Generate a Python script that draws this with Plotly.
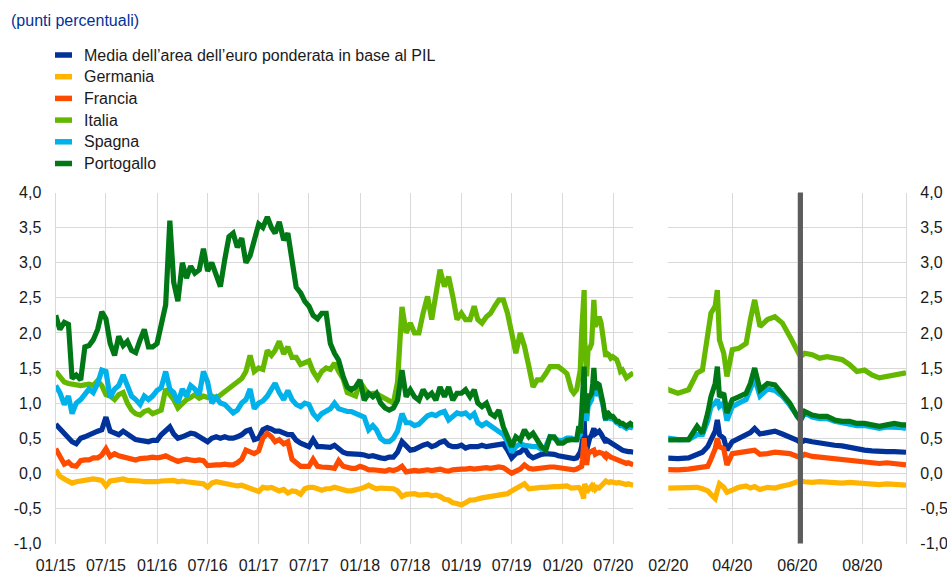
import plotly.graph_objects as go

# ---------------- data ----------------
# semi-monthly observations (1st and 16th of each month), Jan 2015 - Jan 2020
semi_monthly_dates = [f"{y}-{m:02d}-{d:02d}" for y in range(2015, 2021)
                      for m in range(1, 13) for d in (1, 16) if (y, m) <= (2020, 1)]
# denser observations from February 2020
dates_2020 = ["2020-02-01", "2020-02-10", "2020-02-20", "2020-02-28",
              "2020-03-04", "2020-03-09", "2020-03-12", "2020-03-16", "2020-03-18",
              "2020-03-20", "2020-03-24", "2020-03-27",
              "2020-04-01", "2020-04-07", "2020-04-14", "2020-04-18", "2020-04-22", "2020-04-27",
              "2020-05-04", "2020-05-11", "2020-05-18", "2020-05-25",
              "2020-06-01", "2020-06-04", "2020-06-08", "2020-06-15", "2020-06-22", "2020-06-29",
              "2020-07-06", "2020-07-13", "2020-07-20", "2020-07-27",
              "2020-08-03", "2020-08-10", "2020-08-17", "2020-08-24", "2020-08-31",
              "2020-09-07", "2020-09-11"]
dates = semi_monthly_dates + dates_2020

media = [
    0.70, 0.63, 0.58, 0.50, 0.45, 0.42, 0.50, 0.52, 0.55, 0.58, 0.60, 0.62, 0.80, 0.60, 0.58, 0.55, 0.60, 0.55, 0.52, 0.48, 0.47, 0.47, 0.45, 0.47,
    0.47, 0.55, 0.62, 0.66, 0.56, 0.50, 0.52, 0.55, 0.57, 0.56, 0.52, 0.50, 0.45, 0.50, 0.52, 0.50, 0.52, 0.50, 0.50, 0.52, 0.55, 0.60, 0.62, 0.48,
    0.50, 0.62, 0.65, 0.63, 0.60, 0.60, 0.57, 0.55, 0.55, 0.47, 0.43, 0.40, 0.38, 0.48, 0.38, 0.38, 0.37, 0.37, 0.40, 0.35, 0.30, 0.28, 0.28, 0.28,
    0.27, 0.26, 0.24, 0.25, 0.23, 0.22, 0.21, 0.23, 0.23, 0.30, 0.45, 0.38, 0.33, 0.34, 0.38, 0.40, 0.42, 0.38, 0.40, 0.44, 0.46, 0.40, 0.38, 0.38,
    0.40, 0.36, 0.38, 0.38, 0.38, 0.40, 0.38, 0.39, 0.40, 0.42, 0.42, 0.33, 0.22, 0.28, 0.30, 0.36, 0.26, 0.22, 0.25, 0.27, 0.28, 0.28, 0.27, 0.25,
    0.24, 0.23,
    0.21, 0.21, 0.22, 0.26, 0.30, 0.38, 0.48, 0.60, 0.76, 0.55, 0.50, 0.33, 0.45, 0.50, 0.55, 0.58, 0.64, 0.56, 0.58, 0.60,
    0.56, 0.52, 0.47, 0.44, 0.47, 0.45, 0.43, 0.42, 0.40, 0.39, 0.37, 0.34, 0.33, 0.32, 0.31, 0.31, 0.31, 0.31, 0.30]

germania = [
    0.05, -0.04, -0.08, -0.12, -0.14, -0.12, -0.11, -0.10, -0.09, -0.08, -0.09, -0.10, -0.18, -0.11, -0.10, -0.09, -0.08, -0.10, -0.10, -0.10, -0.11, -0.12, -0.12, -0.13,
    -0.12, -0.11, -0.10, -0.10, -0.10, -0.12, -0.11, -0.12, -0.13, -0.13, -0.14, -0.15, -0.20, -0.14, -0.12, -0.13, -0.14, -0.15, -0.17, -0.18, -0.17, -0.19, -0.20, -0.22,
    -0.26, -0.20, -0.21, -0.20, -0.22, -0.25, -0.23, -0.28, -0.25, -0.26, -0.30, -0.22, -0.20, -0.20, -0.22, -0.24, -0.22, -0.22, -0.20, -0.22, -0.24, -0.25, -0.25, -0.24,
    -0.22, -0.20, -0.17, -0.20, -0.22, -0.21, -0.22, -0.22, -0.22, -0.25, -0.33, -0.30, -0.30, -0.29, -0.31, -0.31, -0.30, -0.32, -0.31, -0.33, -0.37, -0.38, -0.42, -0.43,
    -0.45, -0.42, -0.38, -0.38, -0.36, -0.35, -0.34, -0.33, -0.33, -0.32, -0.31, -0.29, -0.25, -0.22, -0.20, -0.15, -0.22, -0.21, -0.21, -0.20, -0.20, -0.19, -0.19, -0.19,
    -0.18, -0.18,
    -0.21, -0.21, -0.20, -0.20, -0.22, -0.25, -0.30, -0.36, -0.25, -0.15, -0.20, -0.27, -0.24, -0.20, -0.18, -0.21, -0.19, -0.23, -0.20, -0.21,
    -0.18, -0.16, -0.12, -0.11, -0.12, -0.13, -0.12, -0.13, -0.13, -0.14, -0.13, -0.14, -0.15, -0.16, -0.16, -0.15, -0.16, -0.16, -0.17]

francia = [
    0.35, 0.25, 0.13, 0.16, 0.11, 0.10, 0.18, 0.19, 0.19, 0.22, 0.22, 0.26, 0.35, 0.24, 0.28, 0.25, 0.23, 0.21, 0.19, 0.19, 0.21, 0.21, 0.22, 0.23,
    0.22, 0.23, 0.25, 0.22, 0.20, 0.17, 0.19, 0.20, 0.19, 0.18, 0.19, 0.18, 0.11, 0.12, 0.12, 0.12, 0.13, 0.12, 0.12, 0.15, 0.20, 0.33, 0.30, 0.28,
    0.32, 0.50, 0.57, 0.52, 0.45, 0.48, 0.42, 0.45, 0.20, 0.14, 0.10, 0.10, 0.10, 0.20, 0.10, 0.09, 0.09, 0.08, 0.07, 0.18, 0.10, 0.08, 0.07, 0.07,
    0.10, 0.08, 0.05, 0.05, 0.04, 0.03, 0.03, 0.05, 0.04, 0.06, 0.10, 0.02, 0.03, 0.04, 0.03, 0.04, 0.05, 0.04, 0.05, 0.06, 0.04, 0.03, 0.05, 0.06,
    0.06, 0.06, 0.07, 0.06, 0.07, 0.07, 0.08, 0.07, 0.08, 0.09, 0.08, 0.04, 0.00, 0.03, 0.06, 0.12, 0.07, 0.06, 0.07, 0.08, 0.09, 0.09, 0.09, 0.08,
    0.06, 0.05,
    0.05, 0.05, 0.06, 0.08, 0.10, 0.10, 0.20, 0.35, 0.50, 0.38, 0.35, 0.12, 0.28, 0.30, 0.31, 0.32, 0.33, 0.27, 0.28, 0.30,
    0.29, 0.28, 0.24, 0.23, 0.27, 0.24, 0.23, 0.22, 0.21, 0.20, 0.19, 0.17, 0.17, 0.15, 0.14, 0.15, 0.14, 0.14, 0.12]

italia = [
    1.45, 1.38, 1.30, 1.28, 1.27, 1.26, 1.25, 1.26, 1.27, 1.25, 1.32, 1.25, 1.12, 1.10, 1.05, 1.12, 1.15, 1.00, 0.90, 0.85, 0.83, 0.88, 0.90, 0.85,
    0.88, 0.90, 1.20, 1.12, 1.05, 0.93, 1.00, 1.05, 1.08, 1.12, 1.07, 1.10, 1.08, 1.10, 1.07, 1.12, 1.15, 1.22, 1.25, 1.30, 1.35, 1.45, 1.68, 1.45,
    1.50, 1.48, 1.75, 1.68, 1.75, 1.88, 1.70, 1.80, 1.65, 1.65, 1.55, 1.58, 1.60, 1.45, 1.35, 1.45, 1.50, 1.48, 1.57, 1.45, 1.35, 1.15, 1.12, 1.10,
    1.30, 1.22, 1.12, 1.14, 1.14, 1.10, 1.06, 1.04, 1.00, 1.30, 2.37, 2.00, 2.14, 2.00, 2.00, 2.28, 2.52, 2.19, 2.61, 2.90, 2.66, 2.80, 2.52, 2.19,
    2.28, 2.19, 2.19, 2.38, 2.19, 2.14, 2.23, 2.28, 2.38, 2.47, 2.47, 2.28, 2.00, 1.71, 2.00, 1.81, 1.52, 1.23, 1.33, 1.33, 1.42, 1.52, 1.52, 1.52,
    1.47, 1.42,
    1.19, 1.14, 1.19, 1.43, 1.47, 2.00, 2.28, 2.38, 2.61, 1.90, 1.71, 1.38, 1.76, 1.78, 1.85, 2.19, 2.47, 2.09, 2.19, 2.23,
    2.14, 1.95, 1.76, 1.66, 1.71, 1.69, 1.64, 1.66, 1.64, 1.62, 1.55, 1.45, 1.47, 1.40, 1.36, 1.38, 1.40, 1.43, 1.43]

spagna = [
    1.25, 1.15, 0.98, 1.10, 0.85, 1.00, 1.05, 1.12, 1.20, 1.15, 1.28, 1.47, 1.45, 1.08, 1.20, 1.25, 1.40, 1.25, 1.10, 1.05, 0.98, 1.10, 1.05, 1.10,
    1.18, 1.22, 1.45, 1.20, 1.15, 1.00, 1.20, 1.10, 1.25, 1.20, 1.12, 1.45, 1.30, 1.00, 1.08, 1.00, 0.98, 0.92, 0.86, 0.90, 1.00, 1.05, 1.20, 0.92,
    1.00, 1.03, 1.10, 1.20, 1.28, 1.15, 1.05, 1.18, 1.05, 0.98, 0.95, 1.00, 0.98, 0.85, 0.78, 0.85, 0.88, 0.92, 1.00, 0.92, 0.90, 0.88, 0.88, 0.85,
    0.82, 0.80, 0.62, 0.68, 0.62, 0.50, 0.45, 0.45, 0.50, 0.60, 0.85, 0.72, 0.72, 0.68, 0.70, 0.76, 0.82, 0.84, 0.82, 0.86, 0.88, 0.76, 0.80, 0.86,
    0.84, 0.86, 0.80, 0.85, 0.72, 0.68, 0.72, 0.68, 0.62, 0.58, 0.55, 0.45, 0.30, 0.38, 0.42, 0.40, 0.38, 0.38, 0.38, 0.34, 0.38, 0.52, 0.50, 0.47,
    0.47, 0.50,
    0.50, 0.48, 0.48, 0.55, 0.55, 0.75, 0.95, 1.00, 1.05, 0.95, 1.00, 0.75, 0.95, 1.00, 1.05, 1.20, 1.35, 1.10, 1.20, 1.18,
    1.10, 0.97, 0.80, 0.75, 0.86, 0.80, 0.78, 0.78, 0.74, 0.72, 0.71, 0.68, 0.68, 0.66, 0.64, 0.66, 0.66, 0.65, 0.64]

portogallo = [
    2.25, 2.05, 2.15, 2.12, 1.35, 1.40, 1.33, 1.80, 1.82, 1.90, 2.05, 2.30, 2.20, 1.85, 1.68, 1.95, 1.82, 1.88, 1.75, 1.72, 1.90, 2.05, 1.80, 1.80,
    1.85, 2.15, 2.40, 3.60, 2.72, 2.45, 3.00, 2.78, 2.95, 2.85, 2.90, 3.20, 2.88, 3.00, 2.80, 2.66, 3.05, 3.37, 3.42, 3.22, 3.35, 3.00, 3.10, 3.30,
    3.55, 3.50, 3.65, 3.50, 3.42, 3.58, 3.32, 3.42, 3.00, 2.65, 2.57, 2.45, 2.38, 2.25, 2.20, 2.28, 2.28, 1.85, 1.71, 1.61, 1.38, 1.23, 1.19, 1.23,
    1.33, 1.04, 1.14, 1.09, 1.14, 1.00, 0.93, 0.90, 0.93, 1.04, 1.47, 1.09, 1.19, 1.09, 1.04, 1.19, 1.09, 1.14, 1.04, 1.23, 1.09, 1.23, 1.04, 1.14,
    1.14, 1.19, 1.09, 1.19, 1.00, 0.95, 1.00, 0.85, 0.81, 0.90, 0.66, 0.52, 0.38, 0.52, 0.47, 0.62, 0.52, 0.57, 0.47, 0.38, 0.33, 0.52, 0.52, 0.43,
    0.43, 0.47,
    0.48, 0.48, 0.48, 0.67, 0.57, 0.86, 1.09, 1.28, 1.52, 1.09, 1.14, 0.86, 1.05, 1.09, 1.14, 1.28, 1.50, 1.19, 1.28, 1.26,
    1.14, 1.00, 0.81, 0.76, 0.88, 0.83, 0.81, 0.81, 0.76, 0.74, 0.74, 0.71, 0.71, 0.69, 0.67, 0.69, 0.71, 0.69, 0.69]

series_names = ["Media dell\u2019area dell\u2019euro ponderata in base al PIL", "Germania",
                "Francia", "Italia", "Spagna", "Portogallo"]
series_values = [media, germania, francia, italia, spagna, portogallo]
series_colors = ["#003299", "#FFB400", "#FF4B00", "#65B800", "#00B1EA", "#007816"]

left_tick_dates = [f"{y}-{m:02d}-01" for y in range(2015, 2021) for m in (1, 7)]
left_tick_labels = [f"{m:02d}/{y % 100:02d}" for y in range(2015, 2021) for m in (1, 7)]
right_tick_dates = ["2020-02-01", "2020-04-01", "2020-06-01", "2020-08-01"]
right_tick_labels = ["02/20", "04/20", "06/20", "08/20"]
y_tick_values = [-1.0, -0.5, 0.0, 0.5, 1.0, 1.5, 2.0, 2.5, 3.0, 3.5, 4.0]
y_tick_labels = ["-1,0", "-0,5", "0,0", "0,5", "1,0", "1,5", "2,0", "2,5", "3,0", "3,5", "4,0"]

left_range = ["2015-01-01", "2020-09-11"]
right_range = ["2020-02-01", "2020-09-11"]
event_date = "2020-06-04"

# ---------------- figure ----------------
W, H = 947, 585
FONT = "Liberation Sans, Arial, sans-serif"
GRID = "#d9d9d9"
TXT = "#1a1a1a"
LW = 5.2

fig = go.Figure()
for name, vals, col in zip(series_names, series_values, series_colors):
    fig.add_trace(go.Scatter(x=dates, y=vals, name=name, mode="lines",
                             line=dict(color=col, width=LW),
                             xaxis="x", yaxis="y", showlegend=False, hoverinfo="skip"))
for name, vals, col in zip(series_names, series_values, series_colors):
    fig.add_trace(go.Scatter(x=dates, y=vals, name=name, mode="lines",
                             line=dict(color=col, width=LW),
                             xaxis="x2", yaxis="y2", showlegend=False, hoverinfo="skip"))

ydom = [(H - 543.5) / H, (H - 192.5) / H]
common_x = dict(type="date", showgrid=True, gridcolor=GRID, gridwidth=1.3,
                zeroline=False, showline=False, ticks="", automargin=False,
                tickfont=dict(family=FONT, size=16, color=TXT),
                ticklabelstandoff=10)
common_y = dict(range=[-1, 4], tickmode="array", tickvals=y_tick_values, ticktext=y_tick_labels,
                showgrid=True, gridcolor=GRID, gridwidth=1.3, zeroline=False,
                showline=True, linecolor=GRID, linewidth=1.3, ticks="", automargin=False,
                tickfont=dict(family=FONT, size=16, color=TXT),
                domain=ydom, ticklabelstandoff=10)

# legend drawn as swatches + labels in the top-left corner
legend_shapes, legend_annotations = [], []
for i, (name, col) in enumerate(zip(series_names, series_colors)):
    yc = 1 - (55 + i * 21.7) / H
    legend_shapes.append(dict(type="line", xref="paper", yref="paper",
                              x0=55 / W, x1=72 / W, y0=yc, y1=yc,
                              line=dict(color=col, width=5.5)))
    legend_annotations.append(dict(text=name, xref="paper", yref="paper",
                                   x=82 / W, y=yc, xanchor="left", yanchor="middle",
                                   showarrow=False,
                                   font=dict(family=FONT, size=16, color=TXT)))

fig.update_layout(
    width=W, height=H, autosize=False,
    margin=dict(l=0, r=0, t=0, b=0),
    paper_bgcolor="white", plot_bgcolor="white",
    font=dict(family=FONT, size=16, color=TXT),
    showlegend=False,
    xaxis=dict(domain=[55.7 / W, 633.3 / W], range=left_range, tickmode="array",
               tickvals=left_tick_dates, ticktext=left_tick_labels, anchor="y", **common_x),
    yaxis=dict(anchor="x", side="left", **common_y),
    xaxis2=dict(domain=[668.3 / W, 906 / W], range=right_range, tickmode="array",
                tickvals=right_tick_dates, ticktext=right_tick_labels, anchor="y2", **common_x),
    yaxis2=dict(anchor="x2", side="right", **common_y),
    shapes=[dict(type="line", xref="x2", yref="y2 domain", x0=event_date, x1=event_date,
                 y0=0, y1=1, line=dict(color="#5c5c5c", width=5), layer="above")] + legend_shapes,
    annotations=[dict(text="(punti percentuali)", xref="paper", yref="paper",
                      x=9 / W, y=1 - 21 / H, xanchor="left", yanchor="middle",
                      showarrow=False, font=dict(family=FONT, size=16, color="#003299"))]
                + legend_annotations,
)

fig.write_html("out.html", config={"displayModeBar": False},
               post_script="document.body.style.margin='0';"
               "document.body.style.padding='0';document.body.style.overflow='hidden';")
